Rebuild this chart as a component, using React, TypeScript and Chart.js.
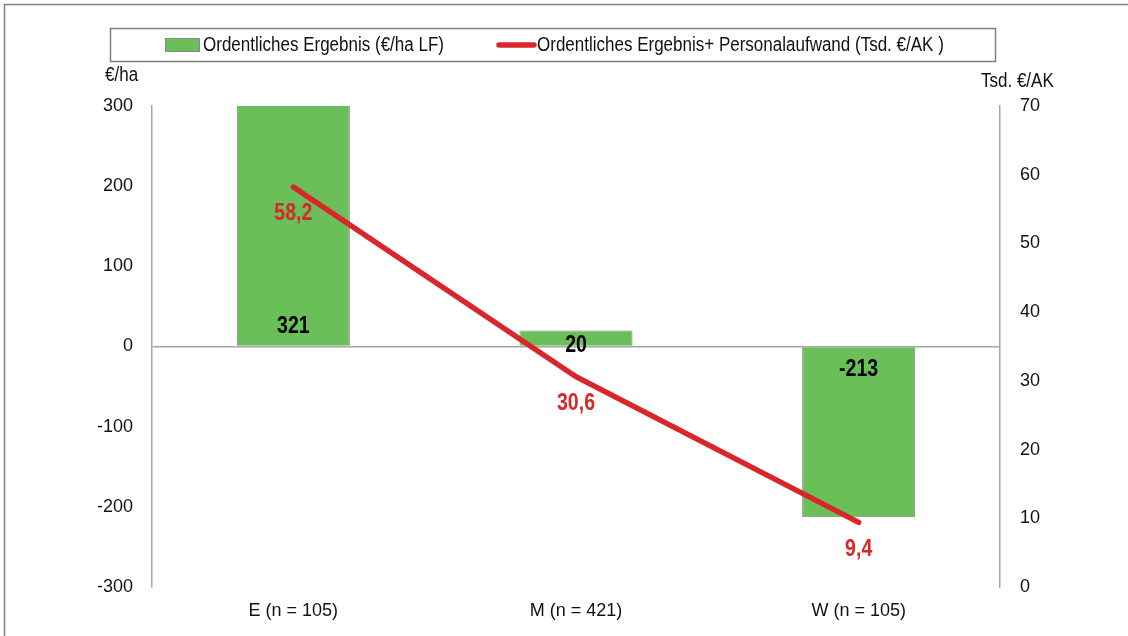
import React, { useEffect, useRef } from "react";
import { Chart, registerables } from "chart.js";

Chart.register(...registerables);

const categories = ["E (n = 105)", "M (n = 421)", "W (n = 105)"];
const barLabel = "Ordentliches Ergebnis (€/ha LF)";
const lineLabel = "Ordentliches Ergebnis+ Personalaufwand (Tsd. €/AK )";
const barValues = [321, 20, -213];
const lineValues = [58.2, 30.6, 9.4];
const leftTitle = "€/ha";
const rightTitle = "Tsd. €/AK";

const FONT = '"Liberation Sans", Arial, sans-serif';
const GREEN = "#6abf59";
const RED = "#d9262b";
const SQUEEZE = 0.85;

const fmt = (v: number) => v.toFixed(1).replace(".", ",");

function narrowText(ctx: any, text: string, x: number, y: number, align: string) {
  ctx.save();
  ctx.translate(x, y);
  ctx.scale(SQUEEZE, 1);
  ctx.textAlign = align;
  ctx.fillText(text, 0, 0);
  ctx.restore();
}

const decorPlugin = {
  id: "decor",
  beforeDraw(chart: any) {
    const ctx = chart.ctx;
    ctx.save();
    ctx.fillStyle = "#fff";
    ctx.fillRect(0, 0, chart.width, chart.height);
    ctx.strokeStyle = "#7f7f7f";
    ctx.lineWidth = 1.5;
    ctx.strokeRect(4.5, 4.5, chart.width + 10, chart.height + 10);
    // legend box
    ctx.strokeStyle = "#808080";
    ctx.strokeRect(110.5, 28.5, 885, 33);
    ctx.font = `20px ${FONT}`;
    ctx.textBaseline = "middle";
    ctx.fillStyle = GREEN;
    ctx.fillRect(165, 38, 35, 14);
    ctx.strokeStyle = "#8a8a8a";
    ctx.lineWidth = 1;
    ctx.strokeRect(165.5, 38.5, 34, 13);
    ctx.fillStyle = "#111";
    narrowText(ctx, barLabel, 203, 45, "left");
    ctx.strokeStyle = RED;
    ctx.lineWidth = 5.5;
    ctx.lineCap = "round";
    ctx.beginPath();
    ctx.moveTo(499, 45);
    ctx.lineTo(534, 45);
    ctx.stroke();
    ctx.fillStyle = "#111";
    narrowText(ctx, lineLabel, 537, 45, "left");
    // axis titles
    narrowText(ctx, leftTitle, 105, 75, "left");
    narrowText(ctx, rightTitle, 981, 81, "left");
    ctx.restore();
  },
  afterDatasetsDraw(chart: any) {
    const ctx = chart.ctx;
    const y = chart.scales.y;
    const zeroY = y.getPixelForValue(0);
    ctx.save();
    ctx.font = `bold 23px ${FONT}`;
    ctx.textBaseline = "middle";
    const barMeta = chart.getDatasetMeta(0);
    barMeta.data.forEach((el: any, i: number) => {
      const v = barValues[i];
      const h = Math.abs(el.base - el.y);
      let ly;
      if (v >= 0) ly = h > 40 ? zeroY - 20 : zeroY - 1;
      else ly = zeroY + 23;
      ctx.fillStyle = "#000";
      narrowText(ctx, String(v), el.x, ly, "center");
    });
    const lineMeta = chart.getDatasetMeta(1);
    lineMeta.data.forEach((el: any, i: number) => {
      ctx.fillStyle = RED;
      narrowText(ctx, fmt(lineValues[i]), el.x, el.y + 27, "center");
    });
    ctx.restore();
  },
};

export default function App() {
  const ref = useRef<HTMLCanvasElement>(null);
  useEffect(() => {
    document.body.style.margin = "0";
    const chart = new Chart(ref.current!, {
      type: "bar",
      data: {
        labels: categories,
        datasets: [
          {
            type: "bar",
            label: barLabel,
            data: barValues,
            backgroundColor: GREEN,
            borderColor: "#8a8a8a",
            borderWidth: 1,
            barPercentage: 0.4,
            categoryPercentage: 1,
            yAxisID: "y",
            order: 1,
          },
          {
            type: "line",
            label: lineLabel,
            data: lineValues,
            borderColor: RED,
            borderWidth: 5.5,
            borderCapStyle: "round",
            pointRadius: 0,
            tension: 0,
            yAxisID: "y2",
            order: 0,
          } as any,
        ],
      },
      options: {
        responsive: false,
        animation: false,
        layout: { padding: { top: 106, left: 0, right: 0, bottom: 0 } },
        plugins: { legend: { display: false }, tooltip: { enabled: false } },
        scales: {
          x: {
            grid: { display: false, drawTicks: false },
            border: { display: false },
            ticks: { font: { family: FONT, size: 18 }, color: "#111", padding: 13 },
            afterFit: (s: any) => { s.height = 49; },
          },
          y: {
            position: "left",
            min: -300,
            max: 300,
            grid: {
              drawTicks: false,
              color: (c: any) => (c.tick && c.tick.value === 0 ? "#a6a6a6" : "rgba(0,0,0,0)"),
              lineWidth: 1.5,
            },
            border: { display: true, color: "#a6a6a6", width: 1.5 },
            ticks: { stepSize: 100, font: { family: FONT, size: 18 }, color: "#111", padding: 19 },
            afterFit: (s: any) => { s.width = 152; },
          },
          y2: {
            position: "right",
            min: 0,
            max: 70,
            grid: { display: false, drawTicks: false },
            border: { display: true, color: "#a6a6a6", width: 1.5 },
            ticks: { stepSize: 10, font: { family: FONT, size: 18 }, color: "#111", padding: 20 },
            afterFit: (s: any) => { s.width = 128; },
          },
        },
      } as any,
      plugins: [decorPlugin],
    });
    return () => chart.destroy();
  }, []);
  return (
    <div style={{ width: 1128, height: 636 }}>
      <canvas ref={ref} width={1128} height={636} style={{ display: "block" }} />
    </div>
  );
}
